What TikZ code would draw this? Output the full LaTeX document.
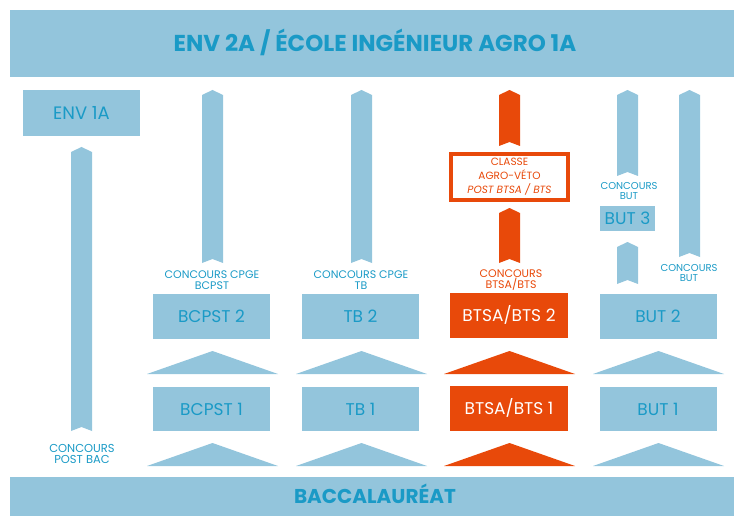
\documentclass[tikz,border=0pt]{standalone}
\usepackage{fontspec}
\setmainfont{Poppins}
\definecolor{lb}{HTML}{93C5DC}
\definecolor{tb}{HTML}{1A9AC6}
\definecolor{rd}{HTML}{E8490A}
\newcommand\vArrow[4]{\fill[#1] (#2-10.5,#3+5) -- (#2,#3) -- (#2+10.5,#3+5) -- (#2+10.5,#4) -- (#2,#4-4) -- (#2-10.5,#4) -- cycle;}
\newcommand\upTri[3]{\fill[#1] (#2-65.5,#3+23) -- (#2,#3) -- (#2+65.5,#3+23) -- cycle;}
\tikzset{
  box/.style={fill=lb, text=tb, inner sep=0pt, minimum width=117pt, minimum height=45pt, font=\fontsize{17}{17}\selectfont, text height=12pt, text depth=0pt},
  rbox/.style={box, fill=rd, text=white},
  lbl/.style={inner sep=0pt, align=center, text=tb},
}
\begin{document}
\begin{tikzpicture}[x=1pt,y=-1pt]
\useasboundingbox (0,0) rectangle (734,516);
% banners
\node[fill=lb, inner sep=0pt, minimum width=724pt, minimum height=67pt, text=tb, font=\fontsize{23}{23}\selectfont\bfseries, text height=16pt, text depth=0pt] (top) at (372,43.5) {\hspace*{6pt}ENV 2A / ÉCOLE INGÉNIEUR AGRO 1A};
\node[fill=lb, inner sep=0pt, minimum width=724pt, minimum height=39pt, text=tb, font=\fontsize{20}{20}\selectfont\bfseries, text height=14pt, text depth=0pt] (bac) at (372,496.5) {\hspace*{6pt}BACCALAURÉAT};
% ENV 1A
\node[box, minimum height=46pt, font=\fontsize{18}{18}\selectfont, text height=13pt] (env1) at (81.5,113) {ENV 1A};
% arrows
\vArrow{lb}{81.5}{147}{431}
\vArrow{lb}{212.5}{90}{263}
\vArrow{lb}{361.5}{90}{263}
\vArrow{rd}{509.5}{90}{146}
\vArrow{rd}{509.5}{208}{263}
\vArrow{lb}{627.5}{90}{176}
\vArrow{lb}{627.5}{242}{284}
\vArrow{lb}{689.5}{90}{257}
% year 2 boxes
\node[box] (bcpst2) at (211.5,316.5) {BCPST 2};
\node[box] (tb2) at (360.5,316.5) {TB 2};
\node[rbox, minimum width=118pt] (btsa2) at (509,315) {BTSA/BTS 2};
\node[box] (but2) at (658,316.5) {BUT 2};
% year 1 boxes
\node[box, minimum height=44pt] (bcpst1) at (211.5,409) {BCPST 1};
\node[box, minimum height=44pt] (tb1) at (360.5,409) {TB 1};
\node[rbox, minimum width=118pt, minimum height=45pt] (btsa1) at (509,408.5) {BTSA/BTS 1};
\node[box, minimum height=44pt] (but1) at (658,409) {BUT 1};
% BUT 3
\node[box, minimum width=55pt, minimum height=25pt, font=\fontsize{17}{17}\selectfont] (but3) at (627.5,218.5) {BUT 3};
% classe agro-veto
\node[draw=rd, line width=4pt, fill=white, inner sep=0pt, minimum width=117pt, minimum height=46pt, text=rd, align=center, font=\fontsize{10.5}{14}\selectfont] (classe) at (509.5,177) {CLASSE\\AGRO-VÉTO\\\itshape POST BTSA / BTS};
% triangles
\upTri{lb}{212.5}{351}\upTri{lb}{212.5}{443}
\upTri{lb}{361.5}{351}\upTri{lb}{361.5}{443}
\upTri{rd}{509.5}{351}\upTri{rd}{509.5}{443}
\upTri{lb}{658.5}{351}\upTri{lb}{658.5}{443}
% labels
\node[lbl, font=\fontsize{11.5}{11}\selectfont] (lpb) at (82,454) {CONCOURS\\POST BAC};
\node[lbl, font=\fontsize{11}{10.8}\selectfont] (lbc) at (212,280) {CONCOURS CPGE\\BCPST};
\node[lbl, font=\fontsize{11}{10.8}\selectfont] (ltb) at (361,280) {CONCOURS CPGE\\TB};
\node[lbl, text=rd, font=\fontsize{11}{10.8}\selectfont] (lbts) at (511,280) {CONCOURS\\BTSA/BTS};
\node[lbl, font=\fontsize{10}{10}\selectfont] (lbu1) at (629,191) {CONCOURS\\BUT};
\node[lbl, font=\fontsize{10}{10}\selectfont] (lbu2) at (689,273) {CONCOURS\\BUT};
\end{tikzpicture}
\end{document}
